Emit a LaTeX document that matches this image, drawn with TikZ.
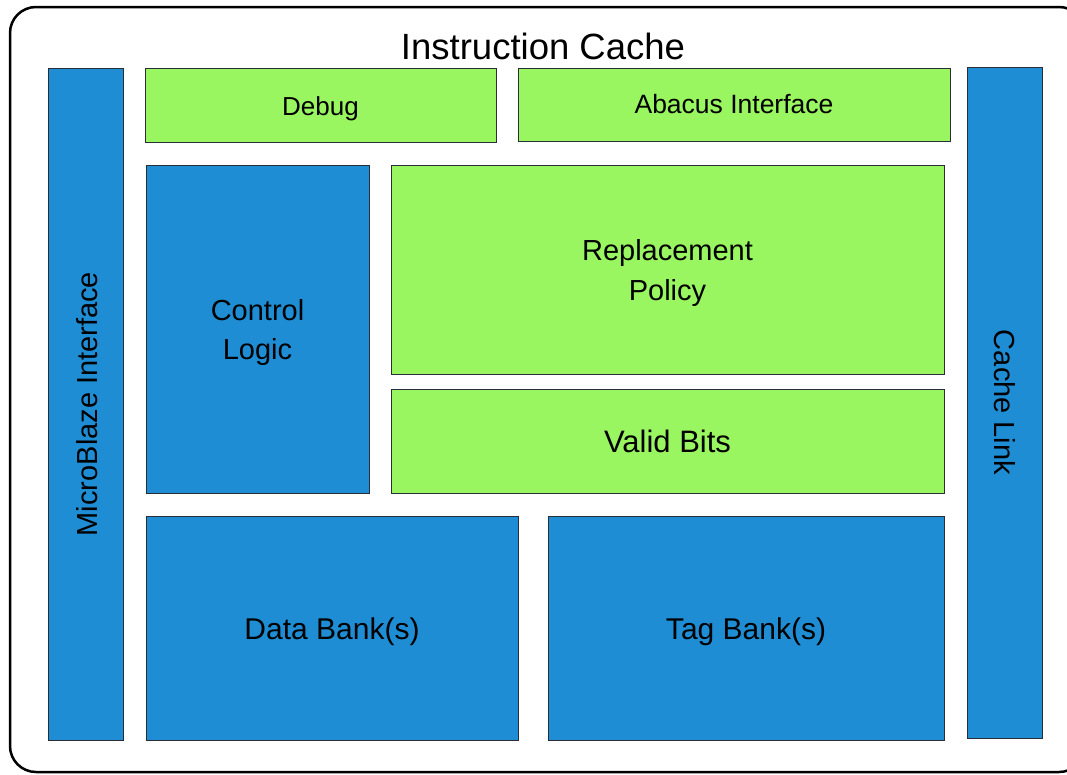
\documentclass[tikz,border=0pt]{standalone}
\usepackage{fontspec}
\setmainfont{Liberation Sans}
\definecolor{blockblue}{RGB}{31,141,212}
\definecolor{blockgreen}{RGB}{153,245,96}
\definecolor{edge}{RGB}{40,45,55}
\tikzset{
  blk/.style={draw=edge, line width=1pt, inner sep=0pt},
  bluebox/.style={blk, fill=blockblue},
  greenbox/.style={blk, fill=blockgreen},
  lbl/.style={inner sep=0pt, align=center, yshift=-3.5pt, font=\fontsize{29}{39.5}\selectfont},
}
\begin{document}
\begin{tikzpicture}[x=1pt,y=-1pt]
  \useasboundingbox (0,0) rectangle (1067,774);
  \clip (0,0) rectangle (1067,774);
  \fill[white] (0,0) rectangle (1067,774);
  % enclosing cache outline
  \draw[line width=2.5pt, rounded corners=26pt, fill=white] (10,7) rectangle (1085,772);
  \node[font=\fontsize{36.5}{40}\selectfont] (title) at (543,46) {Instruction Cache};
  % side interfaces
  \node[bluebox, minimum width=75, minimum height=672,
    label={[lbl, yshift=3.5pt, xshift=2pt, rotate=90]center:MicroBlaze Interface}] (mb) at (85.5,404) {};
  \node[bluebox, minimum width=75, minimum height=671,
    label={[lbl, yshift=3.5pt, rotate=-90]center:Cache Link}] (cl) at (1004.5,402.5) {};
  % top strip
  \node[greenbox, minimum width=351, minimum height=74,
    label={[lbl, font=\fontsize{26}{30}\selectfont]center:Debug}] (dbg) at (320.5,105) {};
  \node[greenbox, minimum width=432, minimum height=73,
    label={[lbl, yshift=3.5pt, font=\fontsize{26.5}{30}\selectfont]center:Abacus Interface}] (aba) at (734,104.5) {};
  % middle section
  \node[bluebox, minimum width=223, minimum height=328,
    label={[lbl]center:Control\\Logic}] (ctl) at (257.5,329) {};
  \node[greenbox, minimum width=553, minimum height=209,
    label={[lbl]center:Replacement\\Policy}] (rep) at (667.5,269.5) {};
  \node[greenbox, minimum width=553, minimum height=104,
    label={[lbl, yshift=3pt, font=\fontsize{31}{36}\selectfont]center:Valid Bits}] (vb) at (667.5,441) {};
  % storage banks
  \node[bluebox, minimum width=372, minimum height=224,
    label={[lbl, font=\fontsize{30}{36}\selectfont]center:Data Bank(s)}] (db) at (332,628) {};
  \node[bluebox, minimum width=396, minimum height=224,
    label={[lbl, font=\fontsize{30}{36}\selectfont]center:Tag Bank(s)}] (tb) at (746,628) {};
\end{tikzpicture}
\end{document}
